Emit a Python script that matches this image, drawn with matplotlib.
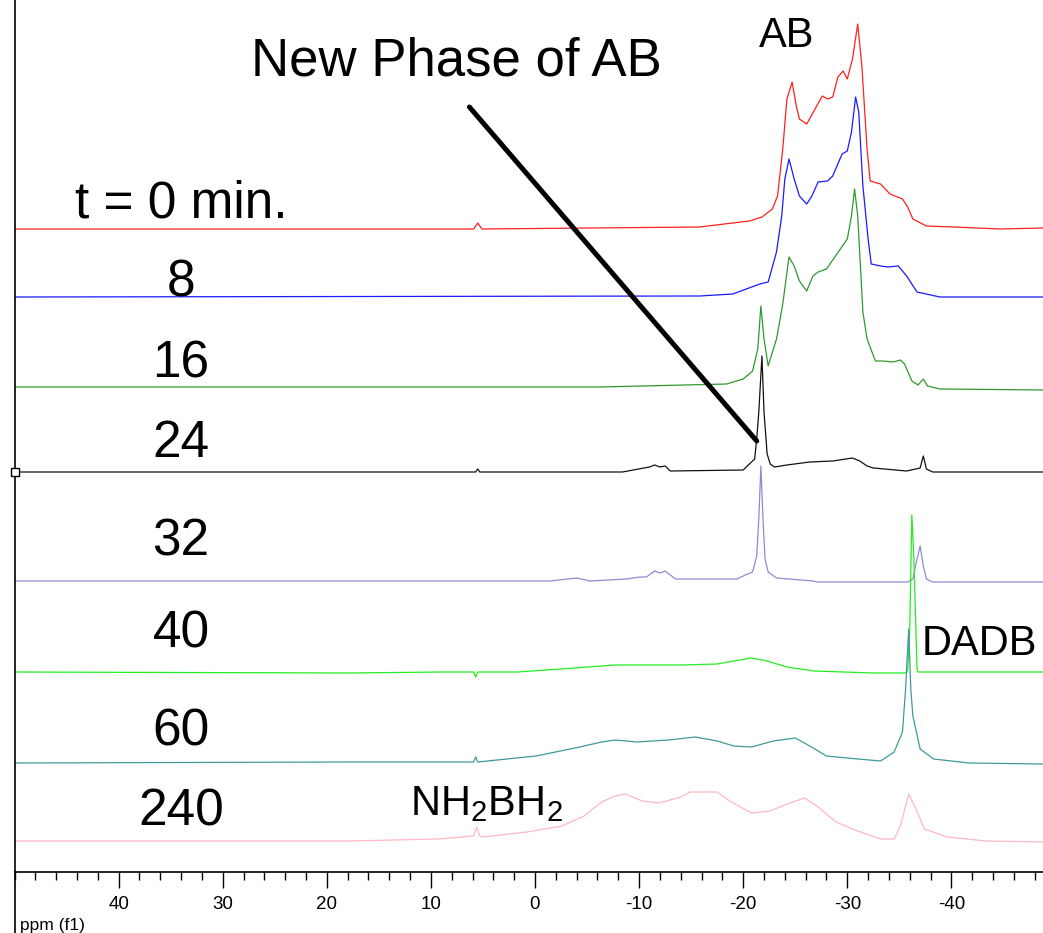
import matplotlib
matplotlib.use("Agg")
import matplotlib.pyplot as plt
from matplotlib import font_manager
from matplotlib.lines import Line2D
from matplotlib.ticker import MultipleLocator

W, H = 1043, 933

# stacked 11B NMR spectra, intensity above each trace's own baseline
red_ppm = [50.0, 5.9, 5.5, 5.1, -15.8, -20.6, -21.8, -22.8, -23.3, -23.8, -24.2, -24.7, -25.1, -25.4,
           -26.1, -26.9, -27.6, -28.1, -28.6, -29.1, -29.6, -30.0, -30.5, -31.0, -31.4, -31.9, -32.2,
           -33.2, -34.1, -35.3, -35.8, -36.3, -37.6, -40.2, -44.7, -48.8]
red_int = [0, 0, 6, 0, 2, 8, 12, 20, 33, 80, 130, 147, 123, 110,
           105, 120, 133, 130, 132, 152, 158, 150, 170, 205, 163, 80, 48,
           45, 35, 30, 22, 10, 3, 2, 0, 1]

blue_ppm = [50.0, -15.8, -19.0, -21.6, -22.4, -23.2, -23.7, -24.0, -24.4, -24.9, -25.4, -26.1, -26.6,
            -27.2, -28.1, -28.6, -29.5, -30.0, -30.4, -30.8, -31.1, -31.5, -32.0, -32.3, -33.2, -33.9,
            -34.9, -35.7, -36.7, -38.9, -48.8]
blue_int = [0, 1, 3, 13, 15, 45, 81, 118, 138, 118, 101, 93, 101,
            115, 116, 121, 143, 146, 165, 200, 185, 111, 58, 33, 31, 30,
            31, 21, 5, 0, 0]

green_ppm = [50.0, -6.2, -18.4, -20.0, -20.9, -21.4, -21.7, -22.0, -22.4, -23.2, -23.8, -24.4, -24.9,
             -25.4, -26.1, -26.7, -27.2, -28.0, -29.0, -30.0, -30.4, -30.7, -31.0, -31.5, -31.9, -32.7,
             -33.4, -34.4, -35.1, -35.5, -36.2, -36.8, -37.3, -37.7, -38.9, -48.8]
green_int = [0, 0, 3, 8, 16, 38, 81, 48, 21, 48, 83, 130, 121,
             106, 96, 111, 115, 118, 133, 148, 171, 198, 171, 75, 48, 26,
             26, 25, 27, 23, 6, 2, 8, 1, -2, -3]

black_ppm = [50.0, 5.7, 5.5, 5.3, -8.4, -11.0, -11.5, -12.0, -12.5, -13.0, -20.0, -20.6, -21.1, -21.3,
             -21.5, -21.8, -22.0, -22.3, -22.6, -23.0, -24.2, -26.4, -28.6, -30.5, -31.2, -31.9, -32.5,
             -35.7, -37.0, -37.3, -37.6, -38.2, -48.8]
black_int = [0, 0, 3, 0, 0, 5, 7, 5, 6, 1, 2, 8, 13, 33,
             60, 116, 60, 18, 8, 5, 7, 10, 11, 14, 11, 6, 4,
             1, 4, 16, 3, 0, 0]

lav_ppm = [50.0, -1.4, -4.0, -5.3, -8.8, -10.1, -10.7, -11.5, -12.0, -12.5, -13.5, -19.4, -20.2, -20.9,
           -21.3, -21.5, -21.7, -21.9, -22.1, -22.4, -23.2, -26.7, -27.1, -35.8, -36.3, -36.7, -37.0,
           -37.3, -37.6, -38.2, -48.8]
lav_int = [0, 0, 3, 0, 2, 4, 4, 10, 8, 10, 2, 2, 6, 9,
           25, 62, 115, 62, 22, 9, 3, 0, -1, -1, 2, 22, 35,
           15, 2, -1, -1]

lime_ppm = [50.0, 17.8, 9.1, 5.9, 5.7, 5.5, 1.7, -3.8, -7.7, -14.0, -17.5, -19.1, -20.8, -22.3,
            -24.2, -26.8, -32.5, -35.5, -35.8, -36.0, -36.2, -36.4, -36.5, -36.7, -36.8, -48.8]
lime_int = [0, -1, 0, 0, -5, 0, 0, 4, 7, 7, 8, 11, 14, 11,
            5, 1, -1, -1, 1, 43, 157, 113, 76, 3, 0, 0]

teal_ppm = [50.0, 17.8, 5.9, 5.7, 5.5, -0.1, -4.3, -6.4, -7.7, -9.8, -12.8, -15.4, -17.5, -19.1,
            -20.8, -22.9, -25.0, -26.4, -28.0, -31.0, -33.2, -34.5, -35.3, -35.6, -35.9, -36.1, -36.3,
            -37.0, -38.3, -41.7, -48.8]
teal_int = [0, 1, 1, 6, 1, 7, 16, 21, 23, 21, 23, 26, 22, 17,
            16, 22, 25, 17, 7, 4, 2, 11, 31, 74, 134, 74, 47,
            14, 4, 0, -1]

pink_ppm = [50.0, 17.8, 9.4, 5.9, 5.6, 5.3, 5.0, 0.8, -2.6, -4.7, -6.4, -7.7, -8.7, -10.3,
            -11.9, -14.0, -14.9, -17.5, -18.7, -20.8, -22.6, -24.2, -25.9, -27.2, -28.9, -31.0, -33.2,
            -34.5, -35.1, -35.9, -36.6, -37.4, -39.6, -43.3, -48.8]
pink_int = [0, 0, 2, 5, 14, 5, 4, 9, 15, 25, 39, 45, 47, 40,
            38, 44, 49, 49, 40, 28, 30, 37, 43, 34, 19, 10, 2,
            2, 15, 47, 32, 12, 4, 0, -1]

times = ['t = 0 min.', '8', '16', '24', '32', '40', '60', '240']
spectra = [(red_ppm, red_int), (blue_ppm, blue_int), (green_ppm, green_int), (black_ppm, black_int),
           (lav_ppm, lav_int), (lime_ppm, lime_int), (teal_ppm, teal_int), (pink_ppm, pink_int)]
colors = ['#ff2020', '#1a1aff', '#2e9a2e', '#111111', '#8c8cd0', '#22ee22', '#3f9a9a', '#ffb8c4']
# vertical stacking of the traces (px above the ppm axis)
offsets = [643, 575, 485, 400, 291, 200, 109, 31]
label_base = [217, 297, 377, 457, 555, 648, 745, 825]

names = {f.name for f in font_manager.fontManager.ttflist}
main_font = 'Liberation Sans' if 'Liberation Sans' in names else 'DejaVu Sans'
tick_font = 'Liberation Sans Narrow' if 'Liberation Sans Narrow' in names else main_font
plt.rcParams['font.family'] = [main_font, 'DejaVu Sans']
plt.rcParams['mathtext.fontset'] = 'custom'
plt.rcParams['mathtext.rm'] = main_font
plt.rcParams['axes.unicode_minus'] = False

fig = plt.figure(figsize=(W / 100, H / 100), dpi=100)
ax = fig.add_axes([14.5 / W, (H - 872) / H, 1 - 14.5 / W, 872 / H])

for (p, v), c, off in zip(spectra, colors, offsets):
    ax.plot(p, [i + off for i in v], color=c, lw=0.9)

ax.plot([black_ppm[0]], [offsets[3]], marker='s', ms=6, mfc='white', mec='black',
        mew=1, clip_on=False, zorder=5)

ax.set_xlim(50, -48.8)
ax.set_ylim(0, 872)
ax.xaxis.set_major_locator(MultipleLocator(10))
ax.xaxis.set_minor_locator(MultipleLocator(2))
ax.tick_params(axis='x', which='major', direction='out', length=11.5, width=1, pad=6,
               labelsize=13.5, labelfontfamily=tick_font)
ax.tick_params(axis='x', which='minor', direction='out', length=5.8, width=1)
ax.set_xticks([40, 30, 20, 10, 0, -10, -20, -30, -40])
ax.set_yticks([])
for s in ['top', 'right']:
    ax.spines[s].set_visible(False)
ax.spines['bottom'].set_linewidth(1.2)
ax.spines['left'].set_linewidth(1.2)
fig.add_artist(Line2D([14.5 / W, 14.5 / W], [0, (H - 872) / H], color='black', lw=1.2))


def fx(x):
    return x / W


def fy(y):
    return 1 - y / H


fig.text(fx(20), fy(930), 'ppm (f1)', fontsize=12.5, family=tick_font, va='baseline')

# the pointer line to the new-phase peak
ax.annotate('', xy=(-21.3, 431), xytext=(6.3, 765),
            arrowprops=dict(arrowstyle='-', lw=3.6, color='black', shrinkA=0, shrinkB=0))

for t, yb in zip(times, label_base):
    fig.text(fx(181), fy(yb), t, fontsize=37, ha='center', va='baseline')

fig.text(fx(251), fy(75), 'New Phase of AB', fontsize=38, va='baseline')
fig.text(fx(787), fy(47), 'AB', fontsize=30, ha='center', va='baseline')
fig.text(fx(922), fy(655), 'DADB', fontsize=30, va='baseline')
fig.text(fx(410), fy(815), r'NH$_2$BH$_2$', fontsize=30, va='baseline')

fig.savefig('out.png', dpi=100, facecolor='white')
